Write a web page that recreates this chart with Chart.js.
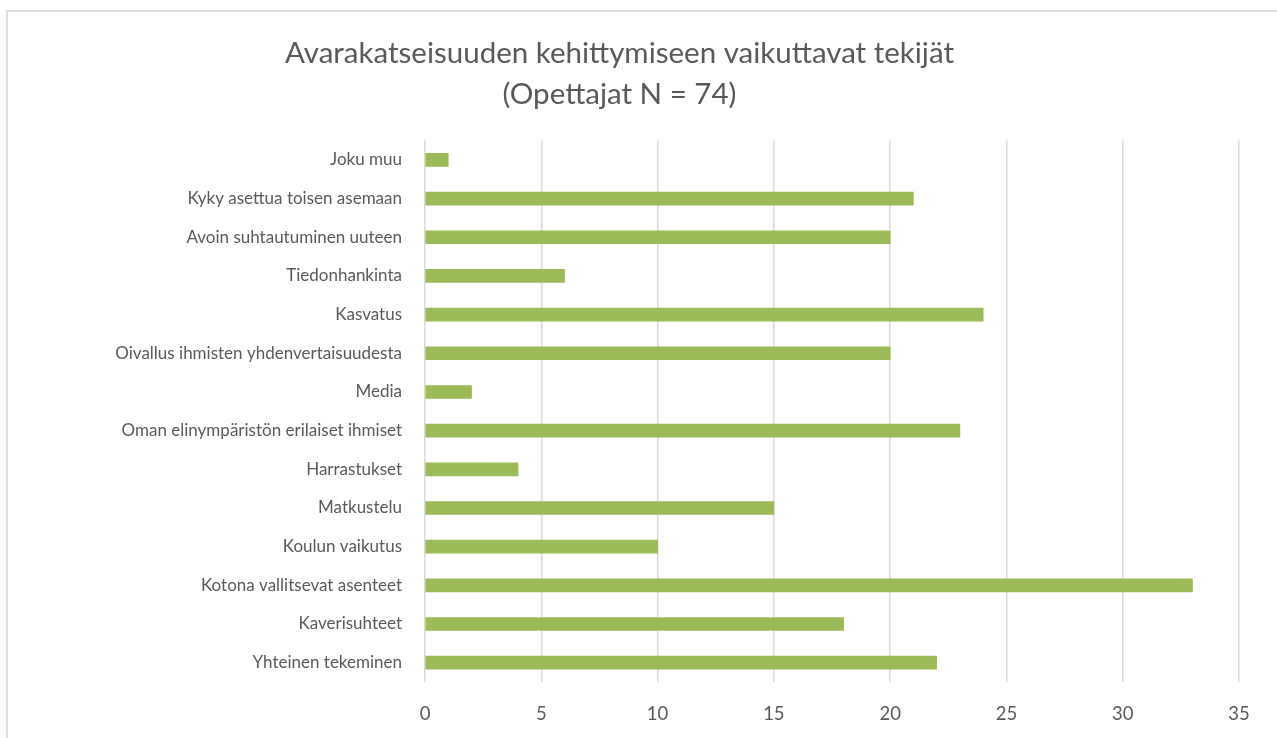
<!DOCTYPE html>
<html>
<head>
<meta charset="utf-8">
<script src="https://cdn.jsdelivr.net/npm/chart.js@4"></script>
<style>
  html, body { margin: 0; padding: 0; background: #fff; overflow: hidden; }
  #wrap { position: relative; width: 1277px; height: 738px; }
  #frame { position: absolute; left: 6px; top: 10px; width: 1400px; height: 900px;
           border: 2px solid #dcdcdc; box-sizing: border-box; }
  canvas { position: absolute; left: 0; top: 0; }
</style>
</head>
<body>
<div id="wrap">
  <div id="frame"></div>
  <canvas id="chart" width="1277" height="738"></canvas>
</div>
<script>
// Data (top to bottom as shown)
const categories = [
    'Joku muu',
    'Kyky asettua toisen asemaan',
    'Avoin suhtautuminen uuteen',
    'Tiedonhankinta',
    'Kasvatus',
    'Oivallus ihmisten yhdenvertaisuudesta',
    'Media',
    'Oman elinympäristön erilaiset ihmiset',
    'Harrastukset',
    'Matkustelu',
    'Koulun vaikutus',
    'Kotona vallitsevat asenteet',
    'Kaverisuhteet',
    'Yhteinen tekeminen'
];
const counts = [1, 21, 20, 6, 24, 20, 2, 23, 4, 15, 10, 33, 18, 22];
const xTicks = [0, 5, 10, 15, 20, 25, 30, 35];
const titleLines = ['Avarakatseisuuden kehittymiseen vaikuttavat tekijät', '(Opettajat N = 74)'];

const FONT = 'Lato, "Open Sans", sans-serif';
const TEXT = '#595959';

new Chart(document.getElementById('chart'), {
    type: 'bar',
    data: {
        labels: categories,
        datasets: [{
            data: counts,
            backgroundColor: '#9bbb59',
            barThickness: 13
        }]
    },
    options: {
        indexAxis: 'y',
        responsive: false,
        animation: false,
        layout: { padding: { left: 0, right: 38, top: 0, bottom: 0 } },
        plugins: {
            legend: { display: false },
            tooltip: { enabled: false },
            title: {
                display: true,
                text: titleLines,
                color: TEXT,
                font: { family: FONT, size: 29.5, weight: 'normal', lineHeight: 1.4 },
                padding: { top: 33, bottom: 25 }
            }
        },
        scales: {
            x: {
                min: 0,
                max: 35,
                afterBuildTicks: s => { s.ticks = xTicks.map(v => ({ value: v })); },
                afterFit: s => { s.height = 56; },
                grid: { color: '#d9d9d9', lineWidth: 1.5, drawTicks: false },
                border: { display: false },
                ticks: { color: TEXT, padding: 21, font: { family: FONT, size: 18.5 } }
            },
            y: {
                afterFit: s => { s.width = 425; },
                grid: { display: false, drawTicks: false },
                border: { display: false },
                ticks: { color: TEXT, padding: 23, font: { family: FONT, size: 17 } }
            }
        }
    }
});
</script>
</body>
</html>
